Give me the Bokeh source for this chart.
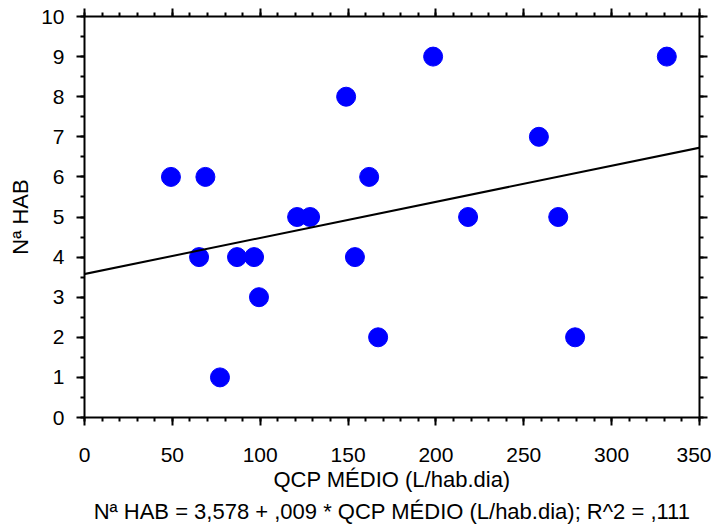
from bokeh.plotting import figure
from bokeh.models import (Range1d, LinearAxis, SingleIntervalTicker, Slope, Title,
                          CustomJSTickFormatter)
from bokeh.embed import file_html
from bokeh.resources import INLINE

# --- data ---
qcp = [49.2, 68.8, 65.2, 86.8, 96.5, 99.3, 77.1, 121.0, 128.4, 148.9,
       162.0, 153.9, 167.1, 198.4, 218.3, 258.6, 269.6, 279.2, 331.4]
hab = [6, 6, 4, 4, 4, 3, 1, 5, 5, 8, 6, 4, 2, 9, 5, 7, 5, 2, 9]
intercept = 3.578
slope = 0.009
x_label = "QCP MÉDIO (L/hab.dia)"
y_label = "Nª HAB"
caption = "Nª HAB = 3,578 + ,009 * QCP MÉDIO (L/hab.dia); R^2 = ,111"

FONT = "Liberation Sans"
TICK_FS = "21px"
LABEL_FS = "22px"

p = figure(frame_width=615, frame_height=401, output_backend="svg",
           toolbar_location=None, x_axis_type=None, y_axis_type=None,
           x_range=Range1d(0, 350), y_range=Range1d(0, 10),
           min_border_left=84, min_border_top=16, min_border_right=12,
           min_border_bottom=2)
p.outline_line_color = None
p.xgrid.visible = False
p.ygrid.visible = False
p.background_fill_color = "white"
p.border_fill_color = "white"


def make_axis(interval, minor, labels=True):
    ax = LinearAxis(ticker=SingleIntervalTicker(interval=interval, num_minor_ticks=minor))
    ax.axis_line_width = 2
    ax.axis_line_color = "black"
    ax.major_tick_line_width = 2
    ax.minor_tick_line_width = 2
    ax.major_tick_out = 8
    ax.major_tick_in = 0
    ax.minor_tick_out = 4
    ax.minor_tick_in = 0
    ax.major_label_text_font = FONT
    ax.major_label_text_color = "black"
    if labels:
        ax.major_label_text_font_size = TICK_FS
        ax.major_label_standoff = 12
    else:
        ax.formatter = CustomJSTickFormatter(code="return ''")
        ax.major_label_text_font_size = "1px"
        ax.major_label_standoff = 0
    ax.axis_label_text_font = FONT
    ax.axis_label_text_font_size = LABEL_FS
    ax.axis_label_text_font_style = "normal"
    ax.axis_label_text_color = "black"
    return ax


xb = make_axis(50, 5)
xb.axis_label = x_label
xb.major_label_standoff = 22
xb.axis_label_standoff = 2
yl = make_axis(1, 2)
yl.axis_label = y_label
yl.axis_label_standoff = 5
xt = make_axis(50, 5, labels=False)
yr = make_axis(1, 2, labels=False)

p.add_layout(xb, "below")
p.add_layout(yl, "left")
p.add_layout(xt, "above")
p.add_layout(yr, "right")

cap = Title(text=caption, align="center", text_font=FONT, text_font_size=LABEL_FS,
            text_font_style="normal", text_color="black", standoff=4)
p.add_layout(cap, "below")

p.add_layout(Slope(gradient=slope, y_intercept=intercept,
                   line_color="black", line_width=2))

p.scatter(qcp, hab, size=19, marker="circle", fill_color="#0000FF",
          line_color="#0000FF")

open("out.html", "w").write(file_html(p, INLINE))
